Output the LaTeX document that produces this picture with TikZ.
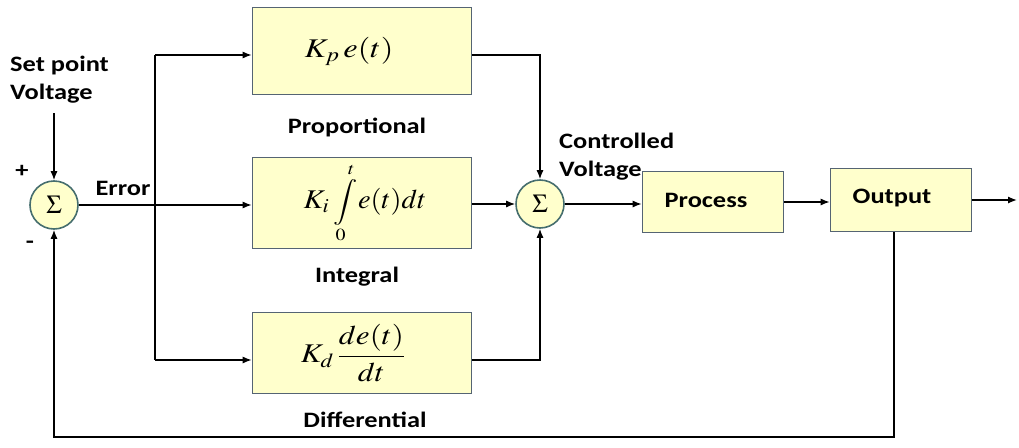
\documentclass[tikz,border=0pt]{standalone}
\usepackage{mathptmx}
\usepackage{graphicx}
\usepackage{fontspec}
\newfontfamily\lab[FakeStretch=1.2]{Carlito}
\usetikzlibrary{arrows.meta}
\definecolor{boxf}{RGB}{255,255,204}
\definecolor{boxc}{RGB}{85,100,115}
\definecolor{circc}{RGB}{70,110,110}
\begin{document}
\begin{tikzpicture}[x=1pt,y=-1pt,
  blk/.style={draw=boxc, fill=boxf, line width=1.6pt, inner sep=0pt},
  sumc/.style={circle, draw=circc, fill=boxf, line width=1.6pt, minimum size=48pt, inner sep=0pt, font=\fontsize{26}{30}\selectfont},
  lbl/.style={font=\lab\bfseries\fontsize{22}{28}\selectfont, inner sep=0pt},
  mth/.style={font=\fontsize{27}{31}\selectfont},
  arr/.style={-{Latex[length=9pt,width=7pt]}, line width=1.3pt},
  ln/.style={line width=1.3pt}]
\useasboundingbox (0,0) rectangle (1019,447);
% summing junctions
\node[sumc] (s1) at (54,205) {$\Sigma$};
\node[sumc] (s2) at (540,204) {$\Sigma$};
% blocks with formulas
\node[blk, mth, minimum width=219pt, minimum height=87pt] (P) at (362,51)
  {\scalebox{1.2}[1]{$K_{p}\,e(t)$}\hspace*{26pt}};
\node[blk, mth, minimum width=219pt, minimum height=91pt] (I) at (362,203)
  {\hspace*{6pt}\scalebox{1.1}[1]{$K_{i}$}\,\raisebox{1pt}{\scalebox{1}[0.85]{$\displaystyle\int\limits_{0}^{t}$}}\scalebox{1.05}[1]{$e(t)dt$}};
\node[blk, mth, minimum width=219pt, minimum height=81pt] (D) at (362,353)
  {\scalebox{1.15}[1]{$K_{d}\,\displaystyle\frac{de(t)}{dt}$}\hspace*{18pt}};
\node[blk, minimum width=141pt, minimum height=61pt] (Pr) at (713,202) {};
\node[blk, minimum width=141pt, minimum height=63pt] (O) at (901,200) {};
\node[lbl] (prt) at (706,200) {Process};
\node[lbl] (ot) at (892,198) {Output};
% labels
\node[lbl, align=left, anchor=north west] (sp) at (10,56) {Set point\\Voltage};
\node[lbl] (plus) at (22,171) {+};
\node[lbl] (minus) at (30,245) {-};
\node[lbl] (err) at (123,188) {Error};
\node[lbl] (pl) at (357,127) {Proportional};
\node[lbl] (il) at (357,277) {Integral};
\node[lbl] (dl) at (365,420) {Differential};
\node[lbl, align=left, anchor=north west] (cv) at (559,133) {Controlled\\Voltage};
% coordinates
\coordinate (spin) at (54,113);
\coordinate (bt) at (155,55);
\coordinate (bb) at (155,360);
\coordinate (yend) at (1017,200);
\coordinate (fb) at (894,437);
% connectors
\draw[arr] (spin) -- (s1.north);
\draw[arr] (s1.east) -- (s1.east -| I.west);
\draw[ln] (bt) -- (bb);
\draw[arr] (bt) -- (bt -| P.west);
\draw[arr] (bb) -- (bb -| D.west);
\draw[arr] (P.east |- bt) -| (s2.north);
\draw[arr] (I.east |- s2) -- (s2.west);
\draw[arr] (D.east |- bb) -| (s2.south);
\draw[arr] (s2.east) -- (s2.east -| Pr.west);
\draw[arr] (Pr.east) -- (Pr.east -| O.west);
\draw[arr] (O.east) -- (yend);
\draw[arr] (O.south -| fb) -- (fb) -| (s1.south);
\end{tikzpicture}
\end{document}
